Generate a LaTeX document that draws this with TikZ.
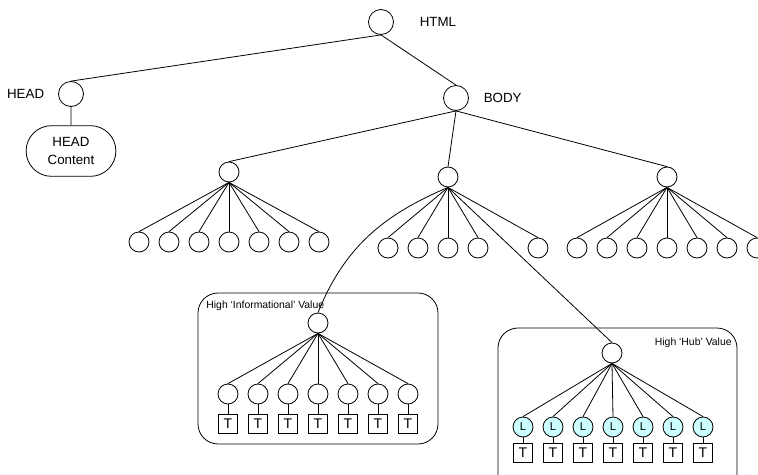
\documentclass[tikz,border=0pt]{standalone}
\usepackage{fontspec}
\setmainfont{Liberation Sans}
\usepackage{xcolor}
\usetikzlibrary{shapes.misc}
\definecolor{linkcyan}{RGB}{204,255,255}

\begin{document}
\begin{tikzpicture}[x=0.75pt,y=-0.75pt,line width=0.6pt,
    bignode/.style={circle,draw,minimum size=18.75pt,inner sep=0pt},
    leaf/.style={circle,draw,minimum size=15pt,inner sep=0pt},
    linknode/.style={leaf,fill=linkcyan,font=\fontsize{8.5}{9}\selectfont},
    textbox/.style={rectangle,draw,minimum size=14.5pt,inner sep=0pt,font=\fontsize{10.5}{11}\selectfont},
    tag/.style={font=\fontsize{10}{13.5}\selectfont},
    region/.style={draw,rounded corners=15pt},
    note/.style={font=\fontsize{7.8}{9}\selectfont,inner sep=0pt}]
    \useasboundingbox (0,0) rectangle (758,475);
    \clip (0,0) rectangle (758,475);
    %%Gốc HTML
    \node[bignode] (html) at (381,22) {};
    \node[tag,anchor=west] (htmltag) at (415,22) {HTML};
    %%HEAD
    \node[bignode] (head) at (71,94) {};
    \node[tag,anchor=east] (headtag) at (49,94) {HEAD};
    \node[rounded rectangle,draw,minimum width=74pt,minimum height=38pt,align=center,tag] (headcontent) at (71,151) {HEAD\\Content};
    \draw (html.south) -- (head.north);
    \draw (head) -- (headcontent);
    %%BODY
    \node[bignode] (body) at (456,98) {};
    \node[tag,anchor=west] (bodytag) at (479,98) {BODY};
    \draw (html.south) -- (body.north);
    \node[leaf] (secA) at (229,172) {};
    \node[leaf] (secB) at (448,177) {};
    \node[leaf] (secC) at (667,177) {};
    \foreach \s in {secA,secB,secC}
        \draw (body.south) -- (\s.north);
    %%Các lá
    \foreach \x [count=\i] in {139,169,...,319} {
        \node[leaf] (a\i) at (\x,242) {};
        \draw (secA.south) -- (a\i.north);
    }
    \foreach \x [count=\i] in {388,418,448,478,538} {
        \node[leaf] (b\i) at (\x,248) {};
        \draw (secB.south) -- (b\i.north);
    }
    \foreach \x [count=\i] in {577,607,...,757} {
        \node[leaf] (c\i) at (\x,248) {};
        \draw (secC.south) -- (c\i.north);
    }
    %%Informational
    \draw[region] (198,293) rectangle (438,444);
    \node[note,anchor=west] (infotag) at (206,306) {High `Informational' Value};
    \node[leaf] (info) at (318,323) {};
    \draw (secB.south) to[out=203,in=68] (info.north);
    \foreach \x [count=\i] in {228,258,...,408} {
        \node[leaf] (i\i) at (\x,394) {};
        \node[textbox] (it\i) at (\x,424) {T};
        \draw (info.south) -- (i\i.north);
        \draw (i\i) -- (it\i);
    }
    %%Hub
    \draw[region] (498,328) rectangle (737,495);
    \node[note,anchor=east] (hubtag) at (732,343) {High `Hub' Value};
    \node[leaf] (hub) at (612,353) {};
    \draw (secB.south) -- (hub.north);
    \foreach \x [count=\i] in {523,553,...,703} {
        \node[linknode] (h\i) at (\x,427) {L};
        \node[textbox] (ht\i) at (\x,453) {T};
        \draw (hub.south) -- (h\i.north);
        \draw (h\i) -- (ht\i);
    }
\end{tikzpicture}
\end{document}
